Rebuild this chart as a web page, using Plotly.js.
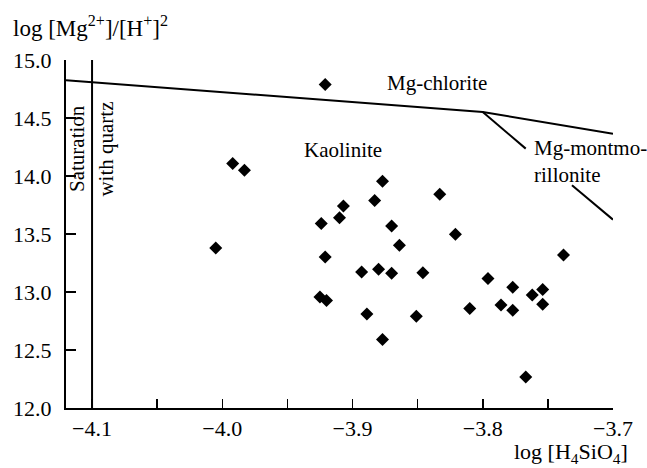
<!DOCTYPE html>
<html>
<head>
<meta charset="utf-8">
<script src="https://cdn.plot.ly/plotly-3.0.1.min.js"></script>
<style>
html,body{margin:0;padding:0;background:#fff;}
#chart{width:647px;height:468px;}
</style>
</head>
<body>
<div id="chart"></div>
<script>
// Sample points: log[H4SiO4] and log[Mg2+]/[H+]^2
const sampleX = [-3.992, -3.983, -4.005, -3.921, -3.877, -3.833, -3.883, -3.907, -3.910, -3.924,
                 -3.870, -3.821, -3.864, -3.921, -3.893, -3.880, -3.870, -3.846, -3.925, -3.920,
                 -3.889, -3.851, -3.877, -3.738, -3.796, -3.777, -3.754, -3.762, -3.810, -3.786,
                 -3.777, -3.754, -3.767];
const sampleY = [14.107, 14.049, 13.379, 14.788, 13.954, 13.842, 13.788, 13.741, 13.641, 13.590,
                 13.569, 13.497, 13.403, 13.302, 13.172, 13.196, 13.161, 13.167, 12.957, 12.926,
                 12.810, 12.790, 12.590, 13.319, 13.116, 13.041, 13.021, 12.974, 12.857, 12.888,
                 12.842, 12.894, 12.267];

// Mg-chlorite / kaolinite / montmorillonite boundary
const chloriteX = [-4.12, -3.80, -3.70];
const chloriteY = [14.825, 14.552, 14.365];
// Kaolinite / Mg-montmorillonite boundary (broken by label)
const montX = [-3.80, -3.767, null, -3.7315, -3.700];
const montY = [14.552, 14.236, null, 13.920, 13.624];
// Saturation with quartz
const quartzX = [-4.1, -4.1];
const quartzY = [12.0, 15.0];

const xTickVals = [-4.1, -4.0, -3.9, -3.8, -3.7];
const xTickText = ['\u22124.1', '\u22124.0', '\u22123.9', '\u22123.8', '\u22123.7'];
const xMinorVals = [-4.05, -3.95, -3.85, -3.75];
const yTickVals = [12.0, 12.5, 13.0, 13.5, 14.0, 14.5, 15.0];
const yTickText = ['12.0', '12.5', '13.0', '13.5', '14.0', '14.5', '15.0'];

const FONT = 'Liberation Serif';
const lineStyle = {color: '#000', width: 2};

const traces = [
  {x: quartzX, y: quartzY, mode: 'lines', line: lineStyle, hoverinfo: 'skip', showlegend: false},
  {x: chloriteX, y: chloriteY, mode: 'lines', line: lineStyle, hoverinfo: 'skip', showlegend: false},
  {x: montX, y: montY, mode: 'lines', line: lineStyle, connectgaps: false, hoverinfo: 'skip', showlegend: false},
  {x: sampleX, y: sampleY, mode: 'markers', marker: {symbol: 'diamond', size: 10, color: '#000'}, showlegend: false}
];

const layout = {
  width: 647, height: 468,
  margin: {l: 66, r: 34, t: 60, b: 60},
  paper_bgcolor: '#fff', plot_bgcolor: '#fff',
  font: {family: FONT, size: 21, color: '#000'},
  showlegend: false,
  xaxis: {
    range: [-4.12, -3.7], tickvals: xTickVals, ticktext: xTickText,
    ticks: 'inside', ticklen: 9, tickwidth: 1.5, tickcolor: '#000',
    minor: {tickvals: xMinorVals, ticks: 'inside', ticklen: 9, tickwidth: 1.5, tickcolor: '#000', showgrid: false},
    showline: true, linecolor: '#000', linewidth: 2, mirror: false,
    showgrid: false, zeroline: false,
    tickfont: {family: FONT, size: 22, color: '#000'}
  },
  yaxis: {
    range: [12, 15], tickvals: yTickVals, ticktext: yTickText,
    ticks: 'inside', ticklen: 10, tickwidth: 1.5, tickcolor: '#000',
    showline: true, linecolor: '#000', linewidth: 2, mirror: false,
    showgrid: false, zeroline: false, ticklabelstandoff: 8,
    tickfont: {family: FONT, size: 22, color: '#000'}
  },
  annotations: [
    {x: -4.111, y: 14.239, text: 'Saturation', textangle: -90, showarrow: false, font: {family: FONT, size: 21}},
    {x: -4.0894, y: 14.235, text: 'with quartz', textangle: -90, showarrow: false, font: {family: FONT, size: 21}},
    {x: -3.9077, y: 14.222, text: 'Kaolinite', showarrow: false, font: {family: FONT, size: 21}},
    {x: -3.8353, y: 14.799, text: 'Mg-chlorite', showarrow: false, font: {family: FONT, size: 21}},
    {x: -3.7625, y: 14.121, text: 'Mg-montmo-<br>rillonite', xanchor: 'left', align: 'left', showarrow: false, font: {family: FONT, size: 21}},
    {xref: 'paper', yref: 'paper', x: 1.031, y: -0.128, xanchor: 'right', yanchor: 'middle',
     text: 'log [H<sub>4</sub>SiO<sub>4</sub>]', showarrow: false, font: {family: FONT, size: 22}},
    {xref: 'paper', yref: 'paper', x: -0.1005, y: 1.095, xanchor: 'left', yanchor: 'middle',
     text: 'log [Mg<sup>2+</sup>]/[H<sup>+</sup>]<sup>2</sup>', showarrow: false, font: {family: FONT, size: 23}}
  ]
};

Plotly.newPlot('chart', traces, layout, {displayModeBar: false, staticPlot: true});
</script>
</body>
</html>
